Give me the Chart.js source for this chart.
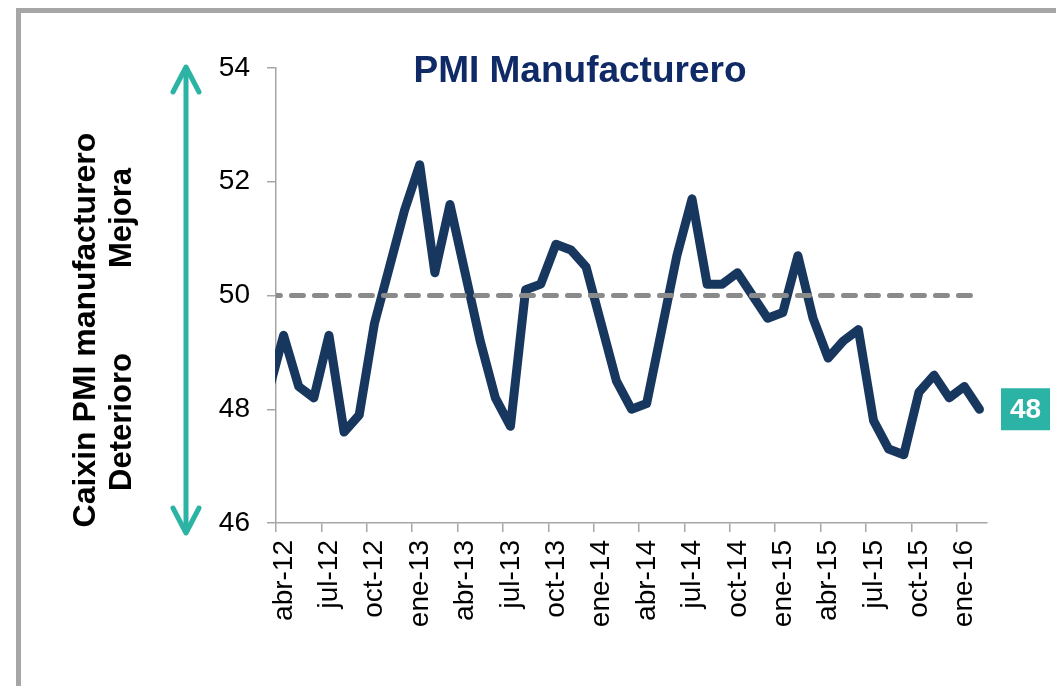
<!DOCTYPE html>
<html>
<head>
<meta charset="utf-8">
<script src="https://cdn.jsdelivr.net/npm/chart.js@4.4.1/dist/chart.umd.min.js"></script>
<style>
html,body{margin:0;padding:0;background:#fff;}
#wrap{width:1056px;height:686px;position:relative;}
</style>
</head>
<body>
<div id="wrap"><canvas id="c" width="1056" height="686"></canvas></div>
<script>
// ---- data ----
const months = [
  'mar-12','abr-12','may-12','jun-12','jul-12','ago-12','sep-12','oct-12','nov-12','dic-12',
  'ene-13','feb-13','mar-13','abr-13','may-13','jun-13','jul-13','ago-13','sep-13','oct-13','nov-13','dic-13',
  'ene-14','feb-14','mar-14','abr-14','may-14','jun-14','jul-14','ago-14','sep-14','oct-14','nov-14','dic-14',
  'ene-15','feb-15','mar-15','abr-15','may-15','jun-15','jul-15','ago-15','sep-15','oct-15','nov-15','dic-15',
  'ene-16','feb-16'
];
const pmi = [
  48.3,49.3,48.4,48.2,49.3,47.6,47.9,49.5,50.5,51.5,
  52.3,50.4,51.6,50.4,49.2,48.2,47.7,50.1,50.2,50.9,50.8,50.5,
  49.5,48.5,48.0,48.1,49.4,50.7,51.7,50.2,50.2,50.4,50.0,49.6,
  49.7,50.7,49.6,48.9,49.2,49.4,47.8,47.3,47.2,48.3,48.6,48.2,
  48.4,48.0
];
const tickLabels = ['abr-12','jul-12','oct-12','ene-13','abr-13','jul-13','oct-13','ene-14',
  'abr-14','jul-14','oct-14','ene-15','abr-15','jul-15','oct-15','ene-16'];
const yTicks = [46,48,50,52,54];
const umbral = 50;
const chartTitle = 'PMI Manufacturero';
const yTitle = 'Caixin PMI manufacturero';
const upLabel = 'Mejora';
const downLabel = 'Deterioro';

// ---- build ----
const FONT = '"Liberation Sans", Arial, sans-serif';
const pmiPoints = pmi.map((v, i) => ({x: i, y: v}));
const refPoints = [{x: 0, y: umbral}, {x: months.length - 1, y: umbral}];
const tickPos = tickLabels.map(l => months.indexOf(l) - 0.5);

function rotText(ctx, txt, x, y, font) {
  ctx.save();
  ctx.translate(x, y);
  ctx.rotate(-Math.PI / 2);
  ctx.font = font;
  ctx.textAlign = 'center';
  ctx.textBaseline = 'middle';
  ctx.fillText(txt, 0, 0);
  ctx.restore();
}

const deco = {
  id: 'deco',
  beforeDraw(chart) {
    const ctx = chart.ctx;
    ctx.save();
    ctx.fillStyle = '#ffffff';
    ctx.fillRect(0, 0, chart.width, chart.height);
    ctx.restore();
  },
  afterDraw(chart) {
    const ctx = chart.ctx;
    const ya = chart.scales.y, xa = chart.scales.x;
    ctx.save();
    // frame
    ctx.strokeStyle = '#a6a6a6';
    ctx.lineWidth = 5;
    ctx.beginPath();
    ctx.moveTo(18.5, 700); ctx.lineTo(18.5, 10.5); ctx.lineTo(1070, 10.5);
    ctx.stroke();
    // title
    ctx.fillStyle = '#0f2a66';
    ctx.font = 'bold 37px ' + FONT;
    ctx.textAlign = 'center';
    ctx.textBaseline = 'alphabetic';
    ctx.fillText(chartTitle, 580, 82);
    // axis titles
    ctx.fillStyle = '#000000';
    rotText(ctx, yTitle, 86, 330, 'bold 32px ' + FONT);
    rotText(ctx, upLabel, 122, 218, 'bold 31px ' + FONT);
    rotText(ctx, downLabel, 122, 422, 'bold 31px ' + FONT);
    // double arrow
    ctx.strokeStyle = '#2bb3a4';
    ctx.lineWidth = 5;
    ctx.lineCap = 'round';
    ctx.lineJoin = 'round';
    const ax = 186, t = ya.top - 1, b = ya.bottom + 10;
    ctx.beginPath(); ctx.moveTo(ax, t + 2); ctx.lineTo(ax, b - 2); ctx.stroke();
    ctx.beginPath(); ctx.moveTo(ax - 13, t + 25); ctx.lineTo(ax, t); ctx.lineTo(ax + 13, t + 25); ctx.stroke();
    ctx.beginPath(); ctx.moveTo(ax - 13, b - 25); ctx.lineTo(ax, b); ctx.lineTo(ax + 13, b - 25); ctx.stroke();
    // last value badge
    const last = pmi[pmi.length - 1];
    const py = ya.getPixelForValue(last);
    ctx.fillStyle = '#2bb3a6';
    ctx.fillRect(xa.right + 14, py - 21, 49, 42);
    ctx.fillStyle = '#ffffff';
    ctx.font = 'bold 28px ' + FONT;
    ctx.textAlign = 'center';
    ctx.textBaseline = 'middle';
    ctx.fillText(String(Math.round(last)), xa.right + 38.5, py + 1);
    ctx.restore();
  }
};

new Chart(document.getElementById('c'), {
  type: 'line',
  data: {
    datasets: [
      {
        label: 'umbral',
        data: refPoints,
        borderColor: '#8a8a8a',
        borderWidth: 5,
        borderDash: [12, 11],
        borderCapStyle: 'round',
        pointRadius: 0,
        fill: false,
        clip: {left: 0, right: 10, top: 10, bottom: 10}
      },
      {
        label: 'PMI',
        data: pmiPoints,
        borderColor: '#18375f',
        borderWidth: 9,
        borderJoinStyle: 'round',
        borderCapStyle: 'round',
        tension: 0,
        pointRadius: 0,
        fill: false,
        clip: {left: 1, right: 10, top: 10, bottom: 10}
      }
    ]
  },
  options: {
    responsive: false,
    animation: false,
    devicePixelRatio: 1,
    layout: {padding: {left: 200, right: 69, top: 68, bottom: 0}},
    plugins: {legend: {display: false}, tooltip: {enabled: false}, title: {display: false}},
    scales: {
      x: {
        type: 'linear',
        min: 0.5,
        max: months.length - 0.5,
        afterBuildTicks(s) { s.ticks = tickPos.map(v => ({value: v})); },
        afterFit(s) { s.height = 163; },
        ticks: {
          autoSkip: false, maxRotation: 90, minRotation: 90,
          labelOffset: 8, padding: 8, color: '#000',
          font: {family: FONT, size: 28},
          callback: (v) => months[v + 0.5]
        },
        grid: {drawOnChartArea: false, drawTicks: true, tickLength: 9, color: '#a6a6a6', lineWidth: 1.5},
        border: {display: true, color: '#a6a6a6', width: 1.5}
      },
      y: {
        min: yTicks[0],
        max: yTicks[yTicks.length - 1],
        afterBuildTicks(s) { s.ticks = yTicks.map(v => ({value: v})); },
        afterFit(s) { s.width = 76; },
        ticks: {padding: 17, color: '#000', font: {family: FONT, size: 28}},
        grid: {drawOnChartArea: false, drawTicks: true, tickLength: 9, color: '#a6a6a6', lineWidth: 1.5},
        border: {display: true, color: '#a6a6a6', width: 1.5}
      }
    }
  },
  plugins: [deco]
});
</script>
</body>
</html>
